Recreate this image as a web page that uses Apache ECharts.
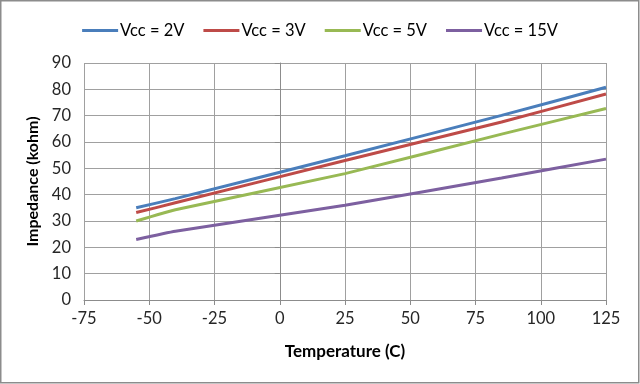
<!DOCTYPE html>
<html>
<head>
<meta charset="utf-8">
<script src="https://cdn.jsdelivr.net/npm/echarts@6/dist/echarts.min.js"></script>
<style>
html,body{margin:0;padding:0;background:#fff;}
#chart{width:640px;height:384px;}
</style>
</head>
<body>
<div id="chart"></div>
<script>
var temperatures = [-55, -40, 25, 85, 125];
var vcc2V  = [35.0, 38.5, 54.8, 70.1, 80.8];
var vcc3V  = [33.2, 36.9, 53.0, 67.6, 78.2];
var vcc5V  = [30.0, 34.3, 48.0, 63.0, 72.7];
var vcc15V = [23.0, 26.1, 36.0, 46.3, 53.5];
var seriesNames = ['Vcc = 2V', 'Vcc = 3V', 'Vcc = 5V', 'Vcc = 15V'];
var seriesColors = ['#4A7EBB', '#BE4B48', '#98B954', '#7D60A0'];
var seriesValues = [vcc2V, vcc3V, vcc5V, vcc15V];

function pairs(vals) {
  return temperatures.map(function (t, i) { return [t, vals[i]]; });
}

var FONT = 'Lato';
var chart = echarts.init(document.getElementById('chart'), null, {renderer: 'canvas'});
chart.setOption({
  animation: false,
  backgroundColor: '#fff',
  textStyle: {fontFamily: FONT},
  graphic: [{
    type: 'rect',
    shape: {x: 0.75, y: 0.75, width: 638, height: 382},
    style: {fill: 'none', stroke: '#8C8C8C', lineWidth: 1.5},
    silent: true
  }],
  legend: {
    top: 17,
    left: 'center',
    itemWidth: 36,
    itemHeight: 3,
    itemGap: 19,
    icon: 'rect',
    textStyle: {fontFamily: FONT, fontSize: 16.5, color: '#000', padding: [0, 0, 0, -3]},
    data: seriesNames
  },
  grid: {left: 84, right: 34, top: 63, bottom: 84, containLabel: false},
  xAxis: {
    type: 'value',
    min: -75, max: 125, interval: 25,
    name: 'Temperature (C)',
    nameLocation: 'middle',
    nameGap: 43,
    nameTextStyle: {fontFamily: FONT, fontSize: 17, fontWeight: 'bold', color: '#000'},
    axisLine: {onZero: false, lineStyle: {color: '#8C8C8C', width: 1}},
    axisTick: {show: true, length: 5, lineStyle: {color: '#8C8C8C'}},
    axisLabel: {fontFamily: FONT, fontSize: 16.5, color: '#262626', margin: 10},
    splitLine: {show: true, lineStyle: {color: '#A0A0A0', width: 1}}
  },
  yAxis: {
    type: 'value',
    min: 0, max: 90, interval: 10,
    name: 'Impedance (kohm)',
    nameLocation: 'middle',
    nameGap: 35,
    nameTextStyle: {fontFamily: FONT, fontSize: 16, fontWeight: 'bold', color: '#000'},
    axisLine: {show: true, lineStyle: {color: '#8C8C8C', width: 1}},
    axisTick: {show: true, length: 5, lineStyle: {color: '#8C8C8C'}},
    axisLabel: {fontFamily: FONT, fontSize: 16.5, color: '#262626', margin: 13},
    splitLine: {show: true, lineStyle: {color: '#A0A0A0', width: 1}}
  },
  series: seriesNames.map(function (n, i) {
    return {
      name: n,
      type: 'line',
      data: pairs(seriesValues[i]),
      showSymbol: false,
      symbol: 'none',
      smooth: 0.15,
      color: seriesColors[i],
      lineStyle: {width: 3, color: seriesColors[i]}
    };
  })
});
</script>
</body>
</html>
